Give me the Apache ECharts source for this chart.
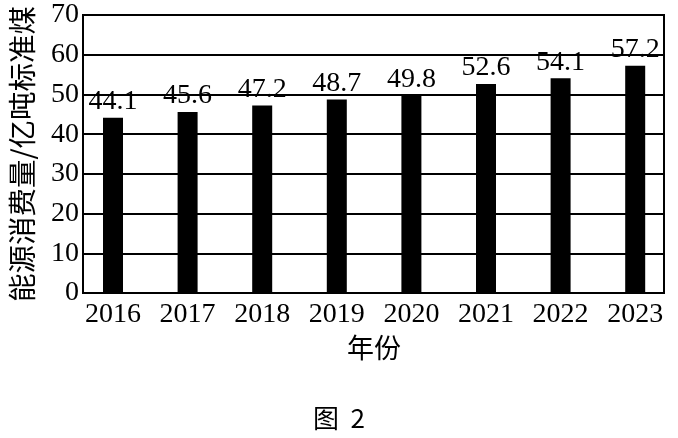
<!DOCTYPE html>
<html>
<head>
<meta charset="utf-8">
<script src="https://cdn.jsdelivr.net/npm/echarts@6/dist/echarts.min.js"></script>
<style>
  html, body { margin: 0; padding: 0; background: #fff; }
  #chart { width: 678px; height: 438px; }
</style>
</head>
<body>
<div id="chart"></div>
<script>
// 年份与能源消费量（亿吨标准煤）
var years = ['2016', '2017', '2018', '2019', '2020', '2021', '2022', '2023'];
var consumption = [44.1, 45.6, 47.2, 48.7, 49.8, 52.6, 54.1, 57.2];
var yTicks = [0, 10, 20, 30, 40, 50, 60, 70];

var serif = '"Liberation Serif", "DejaVu Serif", serif';
var cjk = '"Noto Sans CJK SC", sans-serif';

var chart = echarts.init(document.getElementById('chart'));
chart.setOption({
  animation: false,
  backgroundColor: '#fff',
  title: {
    text: '图  2',
    left: 'center',
    bottom: 2,
    textStyle: { fontFamily: cjk, fontSize: 26, fontWeight: 'normal', color: '#000' }
  },
  grid: [
    // bars and year labels
    { left: 75.7, right: 5.5, top: 15, bottom: 145, outerBoundsMode: 'none' },
    // framed plot with gridlines
    { left: 83, right: 14, top: 15, bottom: 145, outerBoundsMode: 'none',
      show: true, borderColor: '#000', borderWidth: 2 }
  ],
  xAxis: [
    {
      gridIndex: 0,
      type: 'category',
      data: years,
      axisLine: { show: false },
      axisTick: { show: false },
      axisLabel: { color: '#000', fontFamily: serif, fontSize: 28, margin: 8 },
      name: '年份',
      nameLocation: 'middle',
      nameGap: 40,
      nameTextStyle: { color: '#000', fontFamily: cjk, fontSize: 27 }
    },
    { gridIndex: 1, type: 'category', data: years, show: false }
  ],
  yAxis: [
    { gridIndex: 0, type: 'value', min: 0, max: 70, interval: 10, show: false },
    {
      gridIndex: 1,
      type: 'value',
      min: yTicks[0],
      max: yTicks[yTicks.length - 1],
      interval: 10,
      axisLine: { show: true, lineStyle: { color: '#000', width: 2 } },
      axisTick: { show: false },
      splitLine: { show: true, lineStyle: { color: '#000', width: 2 } },
      axisLabel: { color: '#000', fontFamily: serif, fontSize: 28, margin: 4 },
      name: '能源消费量/亿吨标准煤',
      nameLocation: 'middle',
      nameRotate: 90,
      nameGap: 47,
      nameTextStyle: { color: '#000', fontFamily: cjk, fontSize: 28.5 }
    }
  ],
  series: [
    {
      type: 'bar',
      xAxisIndex: 0,
      yAxisIndex: 0,
      data: consumption,
      barWidth: 20,
      itemStyle: { color: '#000' },
      label: {
        show: true,
        position: 'top',
        distance: 2,
        color: '#000',
        fontFamily: serif,
        fontSize: 28
      },
      z: 5
    }
  ]
});
</script>
</body>
</html>
